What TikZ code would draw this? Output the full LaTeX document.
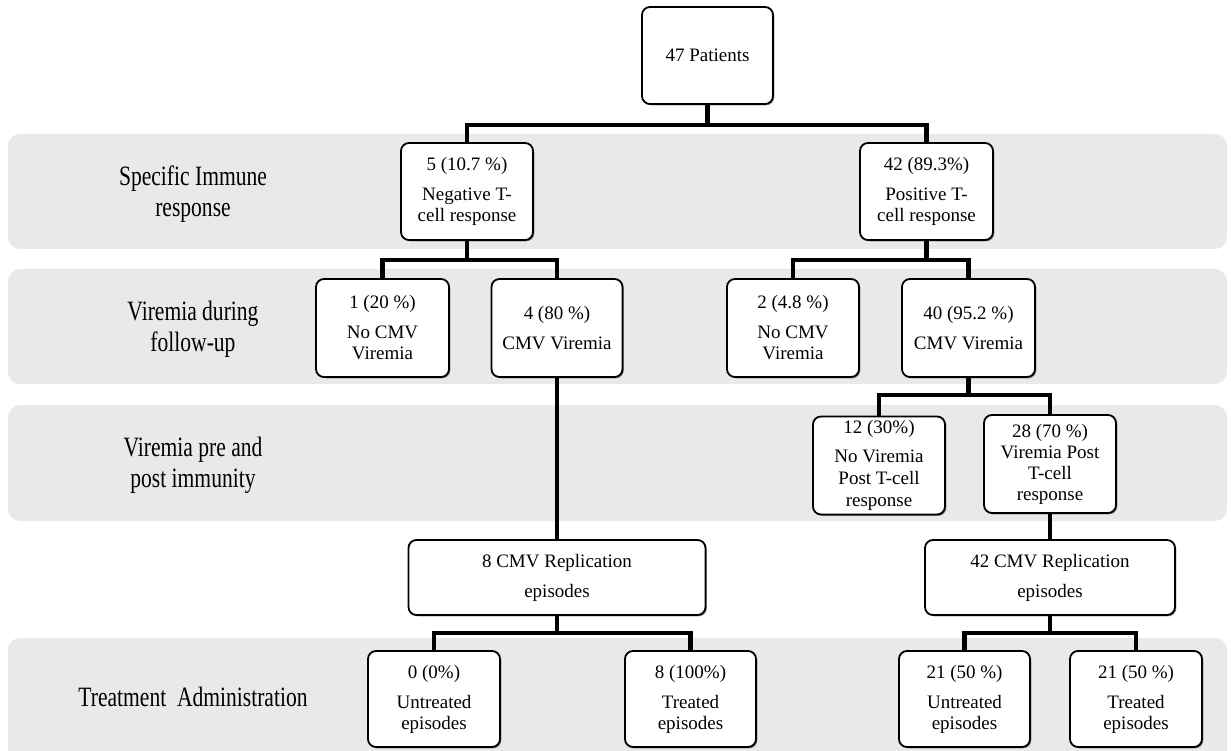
\documentclass[tikz,border=0pt]{standalone}
\usepackage{fontspec}
\setmainfont{Liberation Serif}
\newfontfamily\lblfont[FakeStretch=0.77]{Liberation Serif}
\usetikzlibrary{backgrounds,shadows}
\definecolor{bandgray}{HTML}{E9E9E9}
\tikzset{
  box/.style={draw, line width=1.8pt, rounded corners=8pt, fill=white, align=center,
    inner sep=0pt, font=\rmfamily\fontsize{19}{21}\selectfont,
    drop shadow={shadow xshift=1.3pt, shadow yshift=-1.3pt, fill=black, opacity=0.45}},
  lbl/.style={align=center, font=\lblfont\fontsize{28}{31}\selectfont},
  band/.style={fill=bandgray, rounded corners=12pt},
  conn/.style={line width=4.5pt, line join=miter}
}
\begin{document}
\begin{tikzpicture}[x=1pt, y=-1pt]
\useasboundingbox (0,0) rectangle (1231,751);
% labels
\node[lbl] (l1) at (193,194) {Specific Immune\\response};
\node[lbl] (l2) at (193,329) {Viremia during\\follow-up};
\node[lbl] (l3) at (193,465) {Viremia pre and\\post immunity};
\node[lbl] (l4) at (193,697) {Treatment\ \ Administration};
% boxes
\node[box, minimum width=131pt, minimum height=97pt] (top) at (707.5,55.5) {47 Patients};
\node[box, minimum width=132pt, minimum height=97pt] (neg) at (467,191.5) {5 (10.7 \%)\\[9pt]Negative T-\\cell response};
\node[box, minimum width=133pt, minimum height=97pt] (pos) at (926.5,191.5) {42 (89.3\%)\\[9pt]Positive T-\\cell response};
\node[box, minimum width=133pt, minimum height=98pt] (nocmva) at (382.5,328) {1 (20 \%)\\[9pt]No CMV\\Viremia};
\node[box, minimum width=131pt, minimum height=98pt] (cmva) at (557,328) {4 (80 \%)\\[9pt]CMV Viremia};
\node[box, minimum width=132pt, minimum height=98pt] (nocmvb) at (793,328) {2 (4.8 \%)\\[9pt]No CMV\\Viremia};
\node[box, minimum width=133pt, minimum height=98pt] (cmvb) at (968.5,328) {40 (95.2 \%)\\[9pt]CMV Viremia};
\node[box, minimum width=132pt, minimum height=98pt] (novir) at (879,465.5) {12 (30\%)\\[8pt]No Viremia\\[1pt]Post T-cell\\[1pt]response};
\node[box, minimum width=132pt, minimum height=98pt] (vir) at (1050,464) {28 (70 \%)\\Viremia Post\\T-cell\\response};
\node[box, minimum width=297pt, minimum height=75pt] (repa) at (557,577.5) {8 CMV Replication\\[9pt]episodes};
\node[box, minimum width=250pt, minimum height=75pt] (repb) at (1050,577.5) {42 CMV Replication\\[9pt]episodes};
\node[box, minimum width=132pt, minimum height=96pt] (untra) at (434,699) {0 (0\%)\\[9pt]Untreated\\episodes};
\node[box, minimum width=131pt, minimum height=96pt] (tra) at (690.5,699) {8 (100\%)\\[9pt]Treated\\episodes};
\node[box, minimum width=131pt, minimum height=96pt] (untrb) at (964.5,699) {21 (50 \%)\\[9pt]Untreated\\episodes};
\node[box, minimum width=132pt, minimum height=96pt] (trb) at (1136,699) {21 (50 \%)\\[9pt]Treated\\episodes};
\begin{scope}[on background layer]
\clip (0,0) rectangle (1231,751);
\fill[band] (8,134) rectangle (1227,249);
\fill[band] (8,269) rectangle (1227,384);
\fill[band] (8,405) rectangle (1227,521);
\fill[band] (8,638) rectangle (1227,770);
% connectors
\draw[conn] (top.south) -- (top.south |- 0,125);
\draw[conn] (neg.north) -- (neg.north |- 0,125) -- (pos.north |- 0,125) -- (pos.north);
\draw[conn] (neg.south) -- (neg.south |- 0,260);
\draw[conn] (nocmva.north) -- (nocmva.north |- 0,260) -- (cmva.north |- 0,260) -- (cmva.north);
\draw[conn] (pos.south) -- (pos.south |- 0,260);
\draw[conn] (nocmvb.north) -- (nocmvb.north |- 0,260) -- (cmvb.north |- 0,260) -- (cmvb.north);
\draw[conn] (cmvb.south) -- (cmvb.south |- 0,395);
\draw[conn] (novir.north) -- (novir.north |- 0,395) -- (vir.north |- 0,395) -- (vir.north);
\draw[conn] (cmva.south) -- (repa.north);
\draw[conn] (vir.south) -- (repb.north);
\draw[conn] (repa.south) -- (repa.south |- 0,633);
\draw[conn] (untra.north) -- (untra.north |- 0,633) -- (tra.north |- 0,633) -- (tra.north);
\draw[conn] (repb.south) -- (repb.south |- 0,633);
\draw[conn] (untrb.north) -- (untrb.north |- 0,633) -- (trb.north |- 0,633) -- (trb.north);
\end{scope}
\end{tikzpicture}
\end{document}
